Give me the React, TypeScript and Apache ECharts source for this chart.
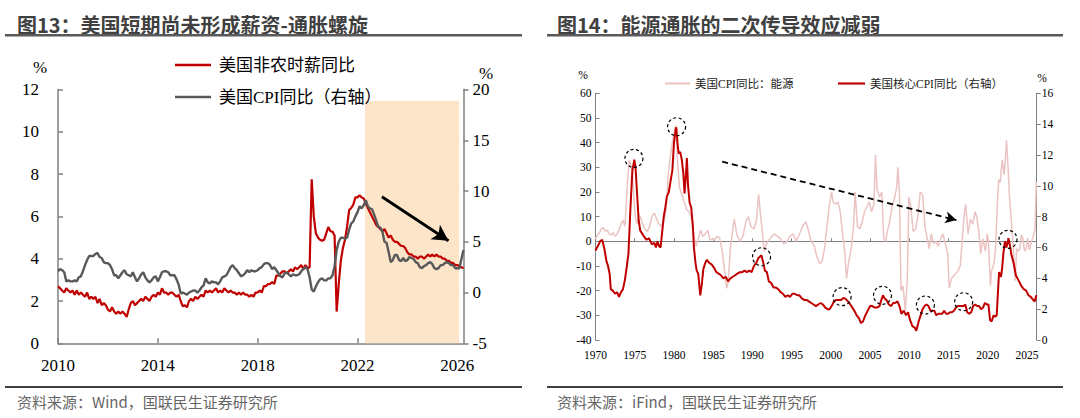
import React, { useEffect, useRef } from "react";
import * as echarts from "echarts";

// ---------- Figure 13 (monthly, first month = 2010.0) ----------
const fig13StartYear = 2010;
const fig13Titles = {
  title: "图13：美国短期尚未形成薪资-通胀螺旋",
  source: "资料来源：Wind，国联民生证券研究所",
};
const wageName = "美国非农时薪同比";
const cpiName = "美国CPI同比（右轴）";
const wageYoY = [
  2.7, 2.6, 2.5, 2.4, 2.6, 2.5, 2.4, 2.5, 2.3, 2.5, 2.3, 2.4,
  2.3, 2.2, 2.4, 2.1, 2.2, 2.1, 2.2, 1.9, 2.1, 1.8, 1.9, 1.8,
  1.6, 1.5, 1.7, 1.5, 1.4, 1.5, 1.4, 1.5, 1.4, 1.25, 1.6, 1.9,
  2.0, 1.8, 1.9, 2.0, 2.1, 2.0, 2.2, 2.1, 2.0, 2.2, 2.3, 2.2,
  2.4, 2.3, 2.6, 2.4, 2.4, 2.3, 2.4, 2.4, 2.3, 2.2, 2.3, 2.0,
  1.75, 1.8, 1.7, 2.0, 2.1, 2.0, 2.2, 2.1, 2.2, 2.3, 2.2, 2.5,
  2.4, 2.5, 2.4, 2.5, 2.6, 2.4, 2.5, 2.4, 2.6, 2.5, 2.4, 2.5,
  2.4, 2.4, 2.3, 2.4, 2.3, 2.4, 2.3, 2.3, 2.2, 2.3, 2.2, 2.4,
  2.4, 2.5, 2.4, 2.7, 2.7, 2.8, 2.8, 2.9, 2.8, 3.2, 3.2, 3.3,
  3.4, 3.4, 3.3, 3.4, 3.5, 3.4, 3.6, 3.5, 3.6, 3.7, 3.5, 3.7,
  3.55, 3.6, 7.75, 6.0, 5.2, 5.0, 4.9, 4.85, 4.9, 5.2, 5.5, 5.3,
  5.28, 5.1, 1.5, 2.8, 3.9, 4.5, 4.9, 5.5, 6.3, 6.4, 6.55, 6.9,
  6.9, 7.0, 6.9, 6.85, 6.6, 6.4, 6.2, 6.0, 5.8, 5.6, 5.5, 5.4,
  5.3, 5.4, 5.2, 5.0, 5.1, 4.9, 4.8, 4.8, 4.7, 4.6, 4.6, 4.5,
  4.3, 4.2, 4.2, 4.1, 4.1, 4.0, 4.1, 4.1, 4.0, 4.1, 4.2, 4.1,
  4.2, 4.1, 4.2, 4.1, 4.1, 4.0, 4.0, 3.9, 3.9, 3.8, 3.8, 3.7,
  3.7, 3.65, 3.6, 3.55,
];
const cpiYoY = [
  2.1, 2.3, 2.2, 2.0, 1.1, 1.2, 1.1, 1.1, 1.2, 1.1, 1.5,
  1.6, 2.1, 2.7, 3.2, 3.6, 3.6, 3.6, 3.8, 3.9, 3.5, 3.4, 3.0,
  2.9, 2.9, 2.7, 2.3, 1.7, 1.7, 1.4, 1.7, 2.0, 2.2, 1.8, 1.7,
  1.6, 2.0, 1.5, 1.1, 1.4, 1.8, 2.0, 1.5, 1.2, 1.0, 1.2, 1.5,
  1.6, 1.1, 1.5, 2.0, 2.1, 2.1, 2.0, 1.7, 1.7, 1.7, 1.3, 0.8,
  -0.1, 0.0, -0.1, -0.2, 0.0, 0.1, 0.2, 0.2, 0.0, 0.2, 0.5, 0.7,
  1.4, 1.0, 0.9, 1.1, 1.0, 1.0, 0.8, 1.1, 1.5, 1.6, 1.7, 2.1,
  2.5, 2.7, 2.4, 2.2, 1.9, 1.6, 1.7, 1.9, 2.2, 2.0, 2.2, 2.1,
  2.1, 2.2, 2.4, 2.5, 2.8, 2.9, 2.9, 2.7, 2.3, 2.5, 2.2, 1.9,
  1.6, 1.5, 1.9, 2.0, 1.8, 1.6, 1.8, 1.7, 1.7, 1.8, 2.1, 2.3,
  2.5, 2.3, 1.5, 0.3, 0.1, 0.6, 1.0, 1.3, 1.4, 1.2, 1.2, 1.4,
  1.4, 1.7, 2.6, 4.2, 5.0, 5.4, 5.4, 5.3, 5.4, 6.2, 6.8, 7.0,
  7.5, 7.9, 8.5, 8.3, 8.6, 9.1, 8.5, 8.3, 8.2, 7.7, 7.1, 6.5,
  6.4, 6.0, 5.0, 4.9, 4.0, 3.0, 3.2, 3.7, 3.7, 3.2, 3.1, 3.4,
  3.1, 3.2, 3.5, 3.4, 3.3, 3.0, 2.9, 2.5, 2.4, 2.6, 2.7, 2.9,
  3.0, 2.8, 2.4, 2.3, 2.4, 2.7, 2.7, 2.9, 3.0, 2.9, 2.7, 2.7,
  2.4, 2.4, 2.4, 3.3, 4.2,
];
const fig13Range = [2010, 2026.25];
const fig13Shade = [[2022.3, -5], [2026.08, 18.9]]; // [year, right-axis value]
const fig13Arrow = [[2022.98, 6.93], [2025.65, 4.85]]; // [year, left-axis value]

// ---------- Figure 14 ----------
const fig14Titles = {
  title: "图14：能源通胀的二次传导效应减弱",
  source: "资料来源：iFind，国联民生证券研究所",
};
const energyName = "美国CPI同比：能源";
const coreName = "美国核心CPI同比（右轴）";
const fig14Range = [1970, 2026.25];
// [year, %] left axis
const energyCpi: [number, number][] = [
  [1970.0, 1], [1970.25, 2.5], [1970.5, 3.5], [1970.75, 5], [1971.0, 5.5], [1971.25, 4], [1971.5, 4.5], [1971.75, 3],
  [1972.0, 2.5], [1972.25, 3.5], [1972.5, 2], [1972.75, 3], [1973.0, 4.5], [1973.25, 7], [1973.5, 8.5], [1973.75, 6],
  [1973.9, 14], [1974.1, 25], [1974.3, 33], [1974.5, 31], [1974.7, 28], [1974.9, 18], [1975.1, 9], [1975.3, 7],
  [1975.5, 11], [1975.7, 10], [1976.0, 7], [1976.3, 5], [1976.6, 4], [1976.9, 6], [1977.2, 10], [1977.5, 11.5],
  [1977.8, 9], [1978.1, 7], [1978.4, 6], [1978.7, 8], [1979.0, 13], [1979.3, 28], [1979.6, 36], [1979.9, 42],
  [1980.1, 45], [1980.25, 47], [1980.45, 33], [1980.7, 22], [1981.0, 19], [1981.3, 16], [1981.6, 13], [1981.9, 12],
  [1982.2, 10], [1982.5, 3], [1982.8, -2], [1983.1, 1], [1983.4, 4.5], [1983.7, 2], [1984.0, 3], [1984.3, 4.5],
  [1984.6, 0.5], [1984.9, 1], [1985.2, 0.5], [1985.5, 2], [1985.8, 1.5], [1986.1, -3], [1986.4, -10], [1986.7, -19],
  [1986.9, -17], [1987.2, -3], [1987.5, 5], [1987.7, 9], [1988.0, 3], [1988.4, 0], [1988.8, 2], [1989.2, 8.5],
  [1989.5, 10], [1989.8, 6], [1990.2, 5], [1990.5, 8], [1990.8, 19], [1991.0, 12], [1991.2, 6], [1991.5, -4],
  [1991.8, -1], [1992.1, 0.5], [1992.5, 2], [1992.8, 3], [1993.2, 2], [1993.6, 1], [1994.0, -1], [1994.4, 0],
  [1994.8, 2], [1995.2, 3], [1995.6, 0], [1996.0, 3], [1996.4, 6], [1996.8, 8], [1997.1, 5], [1997.5, 0],
  [1997.9, -2], [1998.2, -6], [1998.6, -9], [1998.9, -8], [1999.2, -3], [1999.5, 6], [1999.8, 14], [2000.1, 20],
  [2000.3, 16], [2000.6, 15], [2000.9, 16], [2001.2, 12], [2001.5, 3], [2001.8, -5], [2002.0, -15], [2002.3, -8],
  [2002.6, -3], [2002.9, 6], [2003.1, 20], [2003.4, 6], [2003.7, 5], [2004.0, 8], [2004.3, 12], [2004.6, 14],
  [2004.9, 16], [2005.2, 12], [2005.5, 15], [2005.7, 35], [2005.9, 21], [2006.2, 18], [2006.5, 20], [2006.75, 1],
  [2007.0, 0], [2007.2, 4], [2007.5, 8], [2007.8, 14], [2008.1, 17], [2008.4, 22], [2008.55, 30], [2008.75, 20],
  [2008.95, -20], [2009.2, -18], [2009.5, -28], [2009.75, -16], [2009.95, 18], [2010.2, 14], [2010.5, 4], [2010.8, 5],
  [2011.1, 10], [2011.4, 20], [2011.7, 19], [2012.0, 6], [2012.3, 1], [2012.55, -3], [2012.8, 3], [2013.1, -1],
  [2013.4, 0], [2013.7, -2], [2014.0, 1], [2014.3, 3], [2014.6, -1], [2014.9, -5], [2015.1, -19], [2015.4, -15],
  [2015.7, -14], [2015.95, -13], [2016.2, -12], [2016.5, -10], [2016.75, 0], [2017.0, 11], [2017.2, 15], [2017.5, 3],
  [2017.8, 9], [2018.1, 7], [2018.4, 12], [2018.6, 10], [2018.9, 3], [2019.1, -5], [2019.4, 1], [2019.7, -4],
  [2019.95, 3], [2020.1, 0], [2020.35, -18], [2020.5, -12], [2020.8, -9], [2021.0, -3], [2021.2, 13], [2021.4, 25],
  [2021.6, 24], [2021.85, 33], [2022.1, 27], [2022.25, 33], [2022.4, 41], [2022.55, 33], [2022.75, 20], [2022.9, 13],
  [2023.1, 5], [2023.3, -5], [2023.5, -16], [2023.7, -3], [2023.9, -4], [2024.1, -3], [2024.3, 2.5], [2024.5, 1],
  [2024.7, -4], [2024.9, -3], [2025.1, 1], [2025.3, -3.5], [2025.5, -1], [2025.7, 1], [2025.9, 3], [2026.05, 5],
  [2026.2, 24],
];
// [year, %] right axis
const coreCpi: [number, number][] = [
  [1970.0, 5.8], [1970.3, 6.1], [1970.6, 6.4], [1970.85, 6.5], [1971.1, 6.0], [1971.4, 5.1], [1971.6, 4.8], [1971.8, 4.3],
  [1971.95, 3.3], [1972.2, 3.2], [1972.5, 3.0], [1972.75, 3.1], [1973.0, 2.8], [1973.25, 3.1], [1973.5, 3.3], [1973.75, 3.9],
  [1974.0, 4.8], [1974.2, 5.6], [1974.45, 8.5], [1974.7, 11.0], [1974.95, 11.7], [1975.1, 11.2], [1975.3, 9.5], [1975.5, 7.8],
  [1975.7, 7.1], [1975.95, 6.9], [1976.2, 6.7], [1976.5, 6.5], [1976.8, 6.6], [1977.0, 6.4], [1977.2, 6.2], [1977.5, 6.3],
  [1977.7, 6.0], [1977.9, 6.4], [1978.1, 6.1], [1978.3, 6.0], [1978.5, 7.0], [1978.7, 8.0], [1978.9, 8.6], [1979.1, 9.3],
  [1979.35, 9.6], [1979.6, 10.4], [1979.8, 11.0], [1980.0, 12.75], [1980.2, 13.6], [1980.3, 13.8], [1980.45, 12.8], [1980.6, 12.1],
  [1980.8, 12.2], [1981.0, 11.7], [1981.2, 10.8], [1981.35, 9.5], [1981.5, 10.5], [1981.65, 11.8], [1981.8, 10.0], [1982.0, 8.9],
  [1982.2, 8.6], [1982.4, 7.5], [1982.55, 6.0], [1982.75, 5.0], [1982.9, 4.5], [1983.1, 4.3], [1983.35, 2.9], [1983.55, 3.6],
  [1983.75, 4.6], [1984.0, 5.0], [1984.2, 5.2], [1984.5, 5.0], [1984.8, 4.9], [1985.1, 4.7], [1985.4, 4.4], [1985.7, 4.3],
  [1986.0, 4.2], [1986.3, 4.0], [1986.6, 4.1], [1986.9, 3.8], [1987.2, 4.0], [1987.5, 4.1], [1987.8, 4.2], [1988.1, 4.3],
  [1988.4, 4.4], [1988.7, 4.4], [1989.0, 4.5], [1989.3, 4.4], [1989.6, 4.5], [1989.9, 4.4], [1990.2, 4.8], [1990.5, 5.0],
  [1990.75, 5.3], [1990.95, 5.4], [1991.15, 5.5], [1991.35, 5.1], [1991.6, 4.5], [1991.85, 4.4], [1992.1, 3.8], [1992.4, 3.7],
  [1992.7, 3.4], [1993.0, 3.4], [1993.3, 3.3], [1993.6, 3.1], [1993.9, 3.0], [1994.2, 2.8], [1994.5, 2.9], [1994.8, 2.8],
  [1995.1, 3.0], [1995.4, 3.0], [1995.7, 2.9], [1996.0, 2.9], [1996.3, 2.7], [1996.6, 2.6], [1996.9, 2.6], [1997.2, 2.5],
  [1997.5, 2.4], [1997.8, 2.3], [1998.1, 2.2], [1998.4, 2.3], [1998.7, 2.4], [1999.0, 2.3], [1999.3, 2.1], [1999.6, 2.0],
  [1999.85, 2.0], [2000.1, 2.2], [2000.4, 2.5], [2000.7, 2.6], [2001.0, 2.6], [2001.3, 2.6], [2001.55, 2.7], [2001.8, 2.7],
  [2002.0, 2.6], [2002.2, 2.5], [2002.5, 2.3], [2002.75, 2.1], [2003.0, 1.9], [2003.3, 1.6], [2003.6, 1.4], [2003.85, 1.1],
  [2004.1, 1.2], [2004.4, 1.6], [2004.7, 1.9], [2005.0, 2.2], [2005.3, 2.2], [2005.6, 2.1], [2005.9, 2.1], [2006.2, 2.2],
  [2006.45, 2.6], [2006.65, 2.9], [2006.85, 2.7], [2007.1, 2.6], [2007.4, 2.3], [2007.7, 2.2], [2007.95, 2.4], [2008.2, 2.4],
  [2008.5, 2.5], [2008.75, 2.2], [2009.0, 1.7], [2009.3, 1.9], [2009.6, 1.6], [2009.85, 1.8], [2010.1, 1.3], [2010.4, 0.9],
  [2010.7, 0.8], [2010.9, 0.6], [2011.2, 1.2], [2011.45, 1.6], [2011.7, 2.0], [2011.95, 2.2], [2012.2, 2.3], [2012.45, 2.2],
  [2012.7, 1.9], [2012.95, 1.9], [2013.2, 1.9], [2013.45, 1.6], [2013.7, 1.7], [2013.95, 1.7], [2014.2, 1.7], [2014.45, 1.9],
  [2014.7, 1.7], [2014.95, 1.7], [2015.2, 1.8], [2015.45, 1.8], [2015.7, 1.9], [2015.95, 2.1], [2016.2, 2.2], [2016.45, 2.2],
  [2016.7, 2.2], [2016.95, 2.2], [2017.15, 2.3], [2017.4, 1.8], [2017.65, 1.7], [2017.9, 1.8], [2018.15, 2.2], [2018.4, 2.3],
  [2018.65, 2.2], [2018.9, 2.2], [2019.15, 2.0], [2019.4, 2.1], [2019.65, 2.4], [2019.9, 2.3], [2020.1, 2.3], [2020.3, 1.3],
  [2020.5, 1.2], [2020.75, 1.6], [2020.95, 1.5], [2021.15, 1.6], [2021.3, 3.0], [2021.45, 4.4], [2021.7, 4.1], [2021.85, 4.7],
  [2022.0, 5.6], [2022.2, 6.4], [2022.4, 6.0], [2022.65, 6.6], [2022.85, 6.1], [2023.0, 5.6], [2023.3, 5.0], [2023.6, 4.2],
  [2023.9, 3.9], [2024.3, 3.5], [2024.6, 3.3], [2024.9, 3.2], [2025.2, 2.9], [2025.5, 2.8], [2025.8, 2.6], [2026.0, 2.5],
  [2026.2, 2.9],
];
// dashed circles around core-CPI peaks: [year, right-axis value]
const fig14Circles = [
  [1974.9, 11.78], [1980.34, 13.83], [1991.17, 5.4], [2001.44, 2.81],
  [2006.59, 2.9], [2012.06, 2.27], [2016.94, 2.48], [2022.59, 6.53],
];
const fig14Arrow = [[1986.15, 32.3], [2016.01, 8.6]]; // [year, left-axis value]

const SERIF = '"Liberation Serif", "Times New Roman", "Noto Sans CJK SC", serif';
const SANS = '"Noto Sans CJK SC", "Noto Sans", sans-serif';
const AXIS_GRAY = "#808080";

const yearLabel = (v: number) => (Math.abs(v - Math.round(v)) < 0.01 ? String(Math.round(v)) : "");

export default function App() {
  const ref = useRef<HTMLDivElement>(null);

  useEffect(() => {
    document.body.style.margin = "0";
    const chart = echarts.init(ref.current!, null, { renderer: "svg", width: 1080, height: 418 });

    const fig13X = wageYoY.map((_, i) => fig13StartYear + i / 12);
    const wageData = wageYoY.map((v, i) => [fig13X[i], v]);
    const cpiData = cpiYoY.map((v, i) => [fig13X[i], v]);

    const axisLineStyle = { color: AXIS_GRAY, width: 1.5 };

    const option: any = {
      animation: false,
      backgroundColor: "#ffffff",
      grid: [
        { left: 58, top: 89.5, width: 405.5, height: 253.8, containLabel: false },
        { left: 595.5, top: 93.3, width: 441.2, height: 246.7, containLabel: false },
      ],
      legend: [
        {
          data: [wageName, cpiName],
          orient: "vertical",
          left: 175,
          top: 56,
          padding: 0,
          icon: "rect",
          itemWidth: 36,
          itemHeight: 2.5,
          itemGap: 14,
          selectedMode: false,
          textStyle: { fontSize: 17, lineHeight: 18, fontFamily: SERIF, color: "#000", padding: [0, 0, 0, 3] },
        },
        {
          data: [energyName],
          left: 665,
          top: 77,
          padding: 0,
          icon: "rect",
          itemWidth: 25,
          itemHeight: 2,
          selectedMode: false,
          textStyle: { fontSize: 11.5, lineHeight: 13, fontFamily: SERIF, color: "#222" },
        },
        {
          data: [coreName],
          left: 838,
          top: 77,
          padding: 0,
          icon: "rect",
          itemWidth: 27,
          itemHeight: 2.2,
          selectedMode: false,
          textStyle: { fontSize: 11.5, lineHeight: 13, fontFamily: SERIF, color: "#222" },
        },
      ],
      xAxis: [
        {
          type: "value",
          gridIndex: 0,
          min: fig13Range[0],
          max: fig13Range[1],
          interval: 4,
          axisLine: { onZero: false, lineStyle: axisLineStyle },
          axisTick: { inside: true, length: 5, lineStyle: axisLineStyle },
          axisLabel: {
            fontSize: 17, fontFamily: SERIF, color: "#000", margin: 14,
            showMaxLabel: false, formatter: yearLabel,
          },
          splitLine: { show: false },
        },
        {
          type: "value",
          gridIndex: 1,
          position: "bottom",
          min: fig14Range[0],
          max: fig14Range[1],
          interval: 5,
          axisLine: { show: false, onZero: false },
          axisTick: { show: false },
          axisLabel: {
            fontSize: 11.5, fontFamily: SERIF, color: "#000", margin: 9,
            showMaxLabel: false, formatter: yearLabel,
          },
          splitLine: { show: false },
        },
        {
          type: "value",
          gridIndex: 1,
          position: "bottom",
          min: fig14Range[0],
          max: fig14Range[1],
          interval: 5,
          axisLine: { show: true, onZero: true, onZeroAxisIndex: 2, lineStyle: { color: AXIS_GRAY, width: 1 } },
          axisTick: { inside: true, length: 3, lineStyle: { color: AXIS_GRAY, width: 1 } },
          axisLabel: { show: false },
          splitLine: { show: false },
        },
      ],
      yAxis: [
        {
          type: "value",
          gridIndex: 0,
          position: "left",
          min: 0,
          max: 12,
          interval: 2,
          axisLine: { show: true, lineStyle: axisLineStyle },
          axisTick: { show: true, inside: true, length: 5, lineStyle: axisLineStyle },
          axisLabel: { fontSize: 17, fontFamily: SERIF, color: "#000", margin: 19 },
          splitLine: { show: false },
        },
        {
          type: "value",
          gridIndex: 0,
          position: "right",
          min: -5,
          max: 20,
          interval: 5,
          axisLine: { show: true, lineStyle: axisLineStyle },
          axisTick: { show: true, inside: false, length: 5, lineStyle: axisLineStyle },
          axisLabel: { fontSize: 17, fontFamily: SERIF, color: "#000", margin: 9 },
          splitLine: { show: false },
        },
        {
          type: "value",
          gridIndex: 1,
          position: "left",
          min: -40,
          max: 60,
          interval: 10,
          axisLine: { show: true, lineStyle: { color: AXIS_GRAY, width: 1 } },
          axisTick: { show: true, inside: true, length: 4, lineStyle: { color: AXIS_GRAY, width: 1 } },
          axisLabel: { fontSize: 11.5, fontFamily: SERIF, color: "#000", margin: 4 },
          splitLine: { show: false },
        },
        {
          type: "value",
          gridIndex: 1,
          position: "right",
          min: 0,
          max: 16,
          interval: 2,
          axisLine: { show: true, lineStyle: { color: AXIS_GRAY, width: 1 } },
          axisTick: { show: true, inside: false, length: 4, lineStyle: { color: AXIS_GRAY, width: 1 } },
          axisLabel: { fontSize: 11.5, fontFamily: SERIF, color: "#000", margin: 5 },
          splitLine: { show: false },
        },
      ],
      series: [
        {
          name: wageName,
          type: "line",
          xAxisIndex: 0,
          yAxisIndex: 0,
          data: wageData,
          symbol: "none",
          lineStyle: { color: "#C00000", width: 2.2 },
          itemStyle: { color: "#C00000" },
          z: 3,
          markLine: {
            silent: true,
            symbol: ["none", "arrow"],
            symbolSize: [13, 16],
            label: { show: false },
            lineStyle: { color: "#000", width: 2.8, type: "solid" },
            data: [[{ coord: fig13Arrow[0] }, { coord: fig13Arrow[1] }]],
          },
        },
        {
          name: cpiName,
          type: "line",
          xAxisIndex: 0,
          yAxisIndex: 1,
          data: cpiData,
          symbol: "none",
          lineStyle: { color: "#595959", width: 2.4 },
          itemStyle: { color: "#595959" },
          z: 3,
          markArea: {
            silent: true,
            itemStyle: { color: "#FCE5C8" },
            data: [[{ coord: fig13Shade[0] }, { coord: fig13Shade[1] }]],
          },
        },
        {
          name: energyName,
          type: "line",
          xAxisIndex: 1,
          yAxisIndex: 2,
          data: energyCpi,
          symbol: "none",
          lineStyle: { color: "#EBC3C2", width: 1.5 },
          itemStyle: { color: "#EBC3C2" },
          z: 2,
          markLine: {
            silent: true,
            symbol: ["none", "arrow"],
            symbolSize: [9, 11],
            label: { show: false },
            lineStyle: { color: "#000", width: 1.8, type: [6, 4] },
            data: [[{ coord: fig14Arrow[0] }, { coord: fig14Arrow[1] }]],
          },
        },
        {
          name: coreName,
          type: "line",
          xAxisIndex: 1,
          yAxisIndex: 3,
          data: coreCpi,
          symbol: "none",
          lineStyle: { color: "#C00000", width: 2 },
          itemStyle: { color: "#C00000" },
          z: 3,
          markPoint: {
            silent: true,
            symbol: "circle",
            symbolSize: 18,
            label: { show: false },
            itemStyle: {
              color: "rgba(0,0,0,0)",
              borderColor: "#000",
              borderWidth: 1.2,
              borderType: [3, 2.5],
            },
            data: fig14Circles.map((c) => ({ coord: c })),
          },
        },
      ],
      graphic: [
        {
          type: "text", x: 17, y: 24,
          style: { text: fig13Titles.title, fontSize: 20, fontWeight: "bold", fontFamily: SANS, fill: "#404040", verticalAlign: "middle" },
        },
        { type: "rect", shape: { x: 5, y: 34, width: 517, height: 2.5 }, style: { fill: "#595959" } },
        {
          type: "text", x: 557, y: 24,
          style: { text: fig14Titles.title, fontSize: 20, fontWeight: "bold", fontFamily: SANS, fill: "#404040", verticalAlign: "middle" },
        },
        { type: "rect", shape: { x: 547, y: 34, width: 516, height: 2.5 }, style: { fill: "#595959" } },
        { type: "rect", shape: { x: 5, y: 386, width: 517, height: 2 }, style: { fill: "#404040" } },
        { type: "rect", shape: { x: 547, y: 386, width: 516, height: 2 }, style: { fill: "#404040" } },
        {
          type: "text", x: 17, y: 401,
          style: { text: fig13Titles.source, fontSize: 15, fontFamily: SANS, fill: "#666666", verticalAlign: "middle" },
        },
        {
          type: "text", x: 557, y: 401,
          style: { text: fig14Titles.source, fontSize: 15, fontFamily: SANS, fill: "#666666", verticalAlign: "middle" },
        },
        {
          type: "text", x: 40, y: 67,
          style: { text: "%", fontSize: 17, fontFamily: SERIF, fill: "#000", align: "center", verticalAlign: "middle" },
        },
        {
          type: "text", x: 486, y: 73,
          style: { text: "%", fontSize: 17, fontFamily: SERIF, fill: "#000", align: "center", verticalAlign: "middle" },
        },
        {
          type: "text", x: 583, y: 75,
          style: { text: "%", fontSize: 11.5, fontFamily: SERIF, fill: "#000", align: "center", verticalAlign: "middle" },
        },
        {
          type: "text", x: 1042, y: 78,
          style: { text: "%", fontSize: 11.5, fontFamily: SERIF, fill: "#000", align: "center", verticalAlign: "middle" },
        },
      ],
    };

    chart.setOption(option);
    return () => chart.dispose();
  }, []);

  return (
    <div
      ref={ref}
      style={{ position: "fixed", left: 0, top: 0, width: 1080, height: 418, background: "#fff" }}
    />
  );
}
